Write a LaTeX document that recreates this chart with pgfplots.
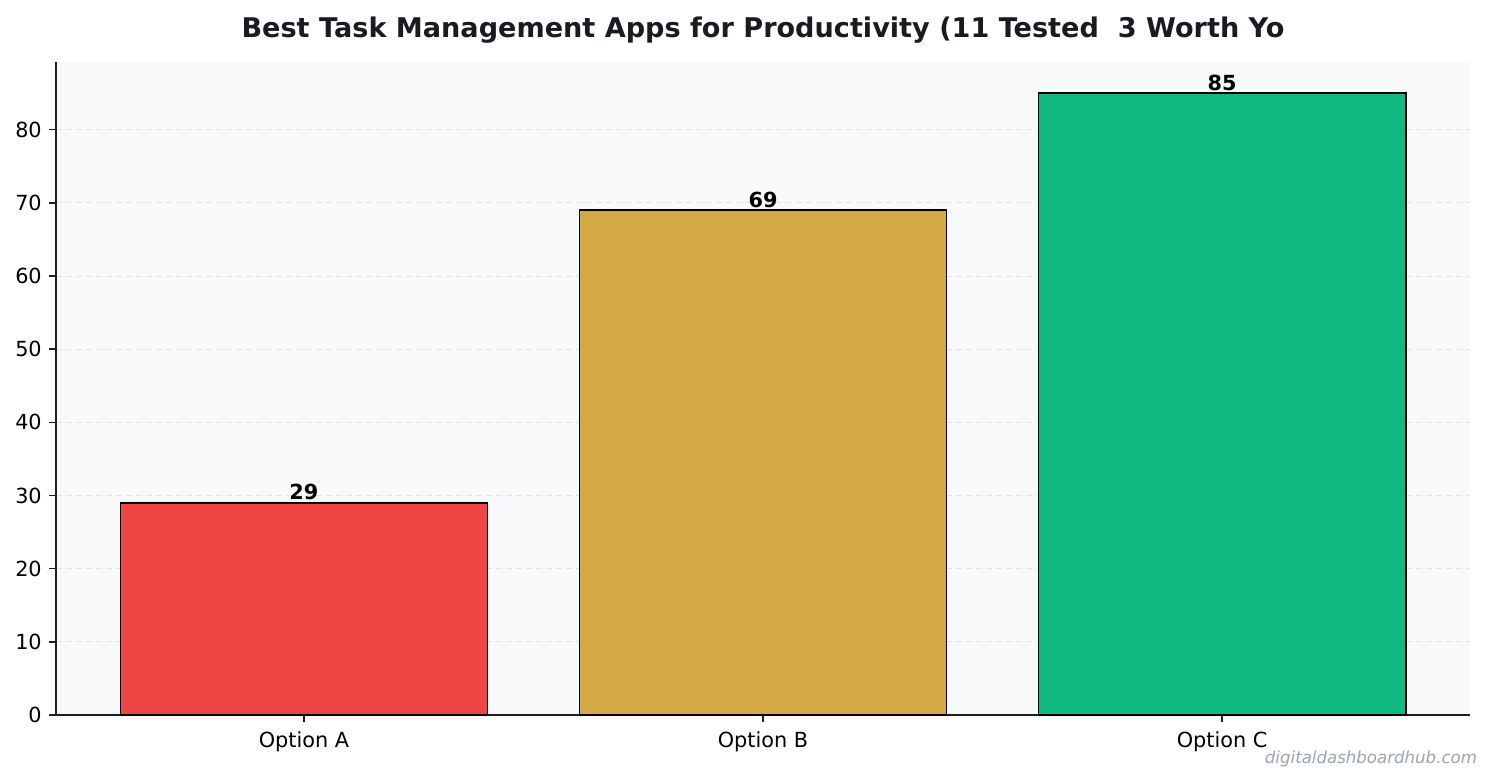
\documentclass[border=0pt]{standalone}
\usepackage{fontspec}
\setmainfont{DejaVu Sans}
\usepackage{pgfplots}
\pgfplotsset{compat=1.18}

\definecolor{barA}{HTML}{EF4444}
\definecolor{barB}{HTML}{D4A843}
\definecolor{barC}{HTML}{10B981}
\definecolor{panel}{HTML}{F8F9FA}
\definecolor{gridc}{HTML}{DFE2E6}
\definecolor{spine}{HTML}{1F1F1F}
\definecolor{titlec}{HTML}{1A1A22}
\definecolor{wmark}{HTML}{9CA3AF}

\begin{document}
\begin{tikzpicture}
\useasboundingbox (-28pt,-34pt) rectangle (718pt,357.5pt);
\begin{axis}[
    at={(0pt,0pt)}, anchor=south west,
    scale only axis,
    width=707pt, height=326.5pt,
    ybar, bar width=0.8, bar shift=0pt,
    xmin=-0.54, xmax=2.54,
    ymin=0, ymax=89.25,
    xtick={0,1,2},
    xticklabels={Option A, Option B, Option C},
    ytick={0,10,...,80},
    axis x line*=bottom, axis y line*=left,
    axis line style={spine, line width=0.8pt, -},
    tick style={spine, line width=0.8pt},
    tick align=outside,
    major tick length=3.6pt,
    ymajorgrids,
    grid style={gridc, dash pattern=on 3pt off 2pt, line width=0.5pt},
    axis background/.style={fill=panel},
    ticklabel style={font=\fontsize{10.4}{12}\selectfont, text=black},
    /pgf/number format/assume math mode=true,
    xticklabel style={yshift=-1pt},
    nodes near coords,
    every node near coord/.append style={font=\bfseries\fontsize{10.4}{12}\selectfont, text=black, anchor=south, inner sep=1pt},
    clip=false,
]
\addplot[fill=barA, draw=black, line width=0.75pt] coordinates {(0,29)};
\addplot[fill=barB, draw=black, line width=0.75pt] coordinates {(1,69)};
\addplot[fill=barC, draw=black, line width=0.75pt] coordinates {(2,85)};
\end{axis}
\node[font=\bfseries\fontsize{13.55}{16}\selectfont, text=titlec] at (353.5pt,342.5pt) {Best Task Management Apps for Productivity (11 Tested\ \ 3 Worth Yo};
\node[font=\itshape\fontsize{8.3}{10}\selectfont, text=wmark, anchor=east] at (714pt,-22pt) {digitaldashboardhub.com};
\end{tikzpicture}
\end{document}
